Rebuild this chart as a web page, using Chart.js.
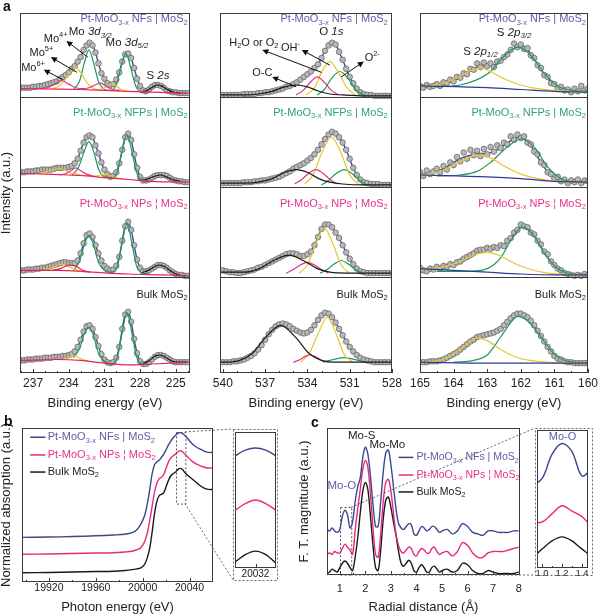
<!DOCTYPE html>
<html>
<head>
<meta charset="utf-8">
<script src="https://cdn.jsdelivr.net/npm/chart.js@4.4.0/dist/chart.umd.min.js"></script>
<style>
  body { margin: 0; background: #fff; }
  #fig { position: relative; width: 601px; height: 616px; overflow: hidden; font-family: 'Liberation Sans', Arial, sans-serif; }
  #fig canvas { position: absolute; }
  .lett { position: absolute; font-weight: bold; font-size: 14px; color: #111; }
</style>
</head>
<body>
<div id="fig">
  <canvas id="a1"></canvas>
  <canvas id="a2"></canvas>
  <canvas id="a3"></canvas>
  <canvas id="b"></canvas>
  <canvas id="bIn"></canvas>
  <canvas id="c"></canvas>
  <canvas id="cIn"></canvas>
  <canvas id="ov" style="pointer-events:none"></canvas>
  <div class="lett" style="left:3px;top:-2px">a</div>
  <div class="lett" style="left:4px;top:413px">b</div>
  <div class="lett" style="left:311px;top:414px">c</div>
</div>
<script>
// ---------- data ----------
// Mo 3d (binding energy, eV)
const MO_E = [238,237.75,237.5,237.25,237,236.75,236.5,236.25,236,235.75,235.5,235.25,235,234.75,234.5,234.25,234,233.75,233.5,233.25,233,232.75,232.5,232.25,232,231.75,231.5,231.25,231,230.75,230.5,230.25,230,229.75,229.5,229.25,229,228.75,228.5,228.25,228,227.75,227.5,227.25,227,226.75,226.5,226.25,226,225.75,225.5,225.25,225,224.75,224.5,224.25,224];
const MO_NFS = [0.10,0.10,0.10,0.10,0.11,0.11,0.12,0.12,0.13, 0.14,0.15,0.16,0.17,0.20,0.22,0.24,0.27, 0.31,0.34,0.39,0.44,0.52,0.57,0.60,0.57, 0.49,0.37,0.26,0.20,0.15,0.13,0.14,0.19, 0.27,0.39,0.47,0.48,0.43,0.32,0.20,0.12, 0.07,0.06,0.08,0.11,0.13,0.13,0.12,0.10, 0.07,0.06,0.05,0.05,0.04,0.04,0.04,0.04];
const MO_NFPS = [0.16,0.16,0.17,0.17,0.17,0.18,0.18,0.19,0.19, 0.19,0.19,0.20,0.21,0.21,0.21,0.21,0.22, 0.23,0.26,0.31,0.40,0.49,0.55,0.57,0.55, 0.46,0.37,0.27,0.19,0.14,0.11,0.12,0.16, 0.26,0.41,0.55,0.59,0.52,0.36,0.21,0.11, 0.07,0.07,0.08,0.10,0.12,0.13,0.13,0.13, 0.12,0.10,0.08,0.07,0.06,0.06,0.05,0.05];
const MO_NPS = [0.07,0.07,0.08,0.08,0.08,0.09,0.09,0.10,0.10, 0.11,0.12,0.13,0.14,0.15,0.16,0.16,0.15, 0.15,0.15,0.18,0.26,0.37,0.46,0.48,0.44, 0.35,0.26,0.18,0.12,0.09,0.07,0.08,0.12, 0.22,0.40,0.56,0.61,0.52,0.35,0.19,0.10, 0.06,0.06,0.07,0.09,0.11,0.13,0.13,0.12, 0.10,0.07,0.05,0.03,0.02,0.02,0.01,0.01];
const MO_BULK = [0.07,0.07,0.08,0.08,0.08,0.09,0.09,0.09,0.10, 0.10,0.10,0.11,0.11,0.11,0.12,0.12,0.13, 0.14,0.17,0.22,0.30,0.39,0.45,0.46,0.42, 0.33,0.23,0.14,0.08,0.05,0.04,0.05,0.10, 0.22,0.42,0.58,0.61,0.50,0.31,0.15,0.06, 0.03,0.03,0.05,0.08,0.11,0.13,0.13,0.12, 0.10,0.08,0.06,0.05,0.05,0.05,0.05,0.05];

const MO_NFS_BG = [[238.1,0.09],[235,0.085],[233,0.08],[231,0.07],[229,0.06],[227,0.05],[223.8,0.04]];
const MO_NFS_MO6 = [[236.4,0.09],[235.8,0.10],[235.2,0.14],[234.6,0.18],[234.0,0.14],[233.4,0.10],[232.8,0.09],[232.3,0.10],[231.8,0.13],[231.3,0.15],[230.8,0.11],[230.3,0.08],[229.7,0.07]];
const MO_NFS_MO5 = [[235.4,0.09],[234.8,0.12],[234.3,0.19],[233.8,0.28],[233.4,0.32],[233.0,0.27],[232.5,0.16],[232.0,0.10],[231.5,0.08],[231.0,0.10],[230.5,0.14],[230.1,0.13],[229.6,0.08],[229.1,0.06]];
const MO_NFS_MO4 = [[233.6,0.08],[233.1,0.17],[232.7,0.37],[232.3,0.52],[231.9,0.37],[231.5,0.17],[231.1,0.09],[230.6,0.07],[230.0,0.13],[229.6,0.33],[229.2,0.48],[228.8,0.33],[228.4,0.13],[228.0,0.06],[227.5,0.05]];
const MO_NFS_S2S = [[228.0,0.05],[227.4,0.07],[226.9,0.11],[226.6,0.13],[226.2,0.12],[225.7,0.08],[225.2,0.05],[224.6,0.04]];

const MO_NFPS_BG = [[238.1,0.15],[236,0.14],[234,0.13],[232.5,0.12],[231,0.10],[229,0.08],[227,0.06],[223.8,0.05]];
const MO_NFPS_MO6 = [[234.8,0.13],[234.2,0.15],[233.8,0.18],[233.4,0.21],[233.0,0.18],[232.5,0.14],[232.0,0.12]];
const MO_NFPS_MO5 = [[236.4,0.15],[235.8,0.17],[235.2,0.19],[234.8,0.20],[234.3,0.18],[233.7,0.15],[233.0,0.13],[232.2,0.12],[231.6,0.12],[231.1,0.14],[230.6,0.13],[230.1,0.10],[229.6,0.09]];
const MO_NFPS_MO4 = [[233.7,0.13],[233.2,0.21],[232.7,0.39],[232.3,0.50],[231.9,0.39],[231.5,0.20],[231.0,0.11],[230.5,0.10],[229.9,0.17],[229.5,0.40],[229.1,0.58],[228.7,0.40],[228.3,0.16],[227.8,0.07],[227.3,0.06]];
const MO_NFPS_S2S = [[228.2,0.07],[227.5,0.08],[226.9,0.11],[226.3,0.13],[225.8,0.11],[225.3,0.08],[224.6,0.06]];

const MO_NPS_BG = [[238.1,0.07],[235,0.07],[232,0.05],[229,0.03],[226,0.02],[223.8,0.01]];
const MO_NPS_MO6 = [[235.4,0.07],[234.7,0.09],[234.2,0.12],[233.8,0.13],[233.3,0.11],[232.8,0.07],[232.2,0.05]];
const MO_NPS_MO5 = [[236.0,0.08],[235.4,0.10],[234.9,0.13],[234.5,0.14],[234.0,0.11],[233.5,0.08],[233.0,0.07]];
const MO_NPS_MO4 = [[233.6,0.07],[233.1,0.17],[232.7,0.35],[232.3,0.46],[231.9,0.35],[231.5,0.16],[231.0,0.07],[230.4,0.05],[229.9,0.12],[229.5,0.38],[229.1,0.60],[228.7,0.38],[228.3,0.12],[227.8,0.04],[227.3,0.03]];
const MO_NPS_S2S = [[227.9,0.04],[227.3,0.07],[226.8,0.11],[226.4,0.13],[225.9,0.11],[225.4,0.06],[224.8,0.02],[224.2,0.01]];

const MO_BULK_BG = [[238.1,0.07],[235,0.08],[233,0.07],[231,0.04],[229,0.02],[227,0.03],[223.8,0.05]];
const MO_BULK_MO5 = [[234.6,0.08],[234.0,0.10],[233.5,0.12],[233.0,0.09],[232.4,0.06]];
const MO_BULK_MO4 = [[233.6,0.10],[233.1,0.20],[232.7,0.36],[232.3,0.44],[231.9,0.34],[231.5,0.15],[231.0,0.06],[230.4,0.03],[229.9,0.11],[229.5,0.38],[229.1,0.60],[228.7,0.38],[228.3,0.11],[227.8,0.03],[227.3,0.03]];
const MO_BULK_S2S = [[227.8,0.03],[227.2,0.07],[226.7,0.12],[226.3,0.13],[225.8,0.10],[225.3,0.06],[224.7,0.05],[224.0,0.05]];

// O 1s
const O_E = [540,539.75,539.5,539.25,539,538.75,538.5,538.25,538,537.75,537.5,537.25,537,536.75,536.5,536.25,536,535.75,535.5,535.25,535,534.75,534.5,534.25,534,533.75,533.5,533.25,533,532.75,532.5,532.25,532,531.75,531.5,531.25,531,530.75,530.5,530.25,530,529.75,529.5,529.25,529,528.75,528.5,528.25,528];
const O_NFS = [0.02,0.02,0.02,0.02,0.02,0.02,0.03,0.03,0.03, 0.03,0.04,0.04,0.05,0.05,0.06,0.07,0.08, 0.09,0.11,0.12,0.14,0.16,0.19,0.22,0.25, 0.28,0.32,0.36,0.43,0.51,0.57,0.60,0.58, 0.50,0.41,0.31,0.22,0.15,0.09,0.05,0.03, 0.02,0.02,0.01,0.01,0.01,0.01,0.01,0.01];
const O_NFPS = [0.04,0.04,0.04,0.04,0.04,0.04,0.05,0.05,0.05, 0.06,0.06,0.07,0.07,0.08,0.09,0.10,0.11, 0.13,0.15,0.17,0.20,0.22,0.24,0.26,0.29, 0.32,0.36,0.41,0.47,0.53,0.58,0.61,0.59, 0.55,0.49,0.41,0.31,0.21,0.13,0.08,0.05, 0.04,0.03,0.03,0.03,0.02,0.02,0.02,0.02];
const O_NPS = [0.07,0.06,0.05,0.05,0.04,0.04,0.05,0.06,0.07, 0.08,0.10,0.11,0.13,0.15,0.17,0.19,0.21, 0.23,0.25,0.26,0.26,0.25,0.23,0.23,0.25, 0.28,0.35,0.44,0.53,0.58,0.58,0.55,0.49, 0.43,0.35,0.27,0.20,0.14,0.09,0.06,0.05, 0.04,0.04,0.04,0.04,0.04,0.04,0.04,0.04];
const O_BULK = [0.05,0.05,0.05,0.06,0.06,0.07,0.08,0.10,0.12, 0.15,0.19,0.24,0.30,0.36,0.41,0.45,0.47, 0.48,0.47,0.45,0.42,0.40,0.38,0.37,0.38, 0.41,0.46,0.52,0.57,0.60,0.59,0.55,0.49, 0.42,0.35,0.28,0.22,0.17,0.13,0.10,0.08, 0.07,0.06,0.05,0.05,0.05,0.05,0.05,0.05];

const O_NFS_OC = [[540.2,0.02],[538.5,0.02],[537.5,0.03],[536.5,0.06],[535.6,0.11],[534.8,0.13],[534.0,0.11],[533.2,0.06],[532.4,0.03],[531.5,0.02],[530,0.01],[528,0.01]];
const O_NFS_H2O = [[534.8,0.02],[534.3,0.07],[533.8,0.16],[533.3,0.22],[532.8,0.16],[532.3,0.07],[531.8,0.02]];
const O_NFS_OH = [[534.1,0.02],[533.5,0.10],[533.0,0.27],[532.4,0.39],[531.8,0.27],[531.2,0.10],[530.6,0.02]];
const O_NFS_O2 = [[533.3,0.02],[532.8,0.08],[532.3,0.20],[531.7,0.28],[531.1,0.20],[530.6,0.08],[530.0,0.02]];

const O_NFPS_OC = [[540.2,0.04],[538.5,0.04],[537.5,0.05],[536.5,0.09],[535.6,0.16],[534.8,0.19],[534.0,0.16],[533.2,0.09],[532.4,0.05],[531.5,0.03],[530,0.02],[528,0.02]];
const O_NFPS_H2O = [[534.9,0.03],[534.4,0.08],[533.9,0.15],[533.4,0.19],[532.9,0.15],[532.4,0.08],[531.9,0.03]];
const O_NFPS_OH = [[534.2,0.03],[533.6,0.13],[533.0,0.37],[532.3,0.55],[531.6,0.37],[531.0,0.13],[530.4,0.03]];
const O_NFPS_O2 = [[533.0,0.02],[532.5,0.07],[532.0,0.14],[531.4,0.19],[530.8,0.14],[530.3,0.07],[529.8,0.02]];

const O_NPS_OC = [[540.2,0.05],[538.5,0.05],[537.4,0.09],[536.4,0.18],[535.3,0.24],[534.3,0.18],[533.3,0.09],[532.4,0.05],[531.2,0.04],[528,0.04]];
const O_NPS_H2O = [[535.5,0.04],[535.0,0.08],[534.5,0.13],[534.0,0.16],[533.5,0.13],[533.0,0.08],[532.5,0.04]];
const O_NPS_OH = [[534.6,0.04],[534.0,0.13],[533.4,0.37],[532.8,0.54],[532.2,0.37],[531.6,0.13],[531.0,0.04]];
const O_NPS_O2 = [[533.1,0.04],[532.6,0.08],[532.1,0.14],[531.6,0.18],[531.1,0.14],[530.6,0.08],[530.1,0.04]];

const O_BULK_OC = [[540.2,0.05],[539.8,0.05],[538.8,0.07],[537.9,0.15],[537.0,0.32],[535.9,0.46],[534.8,0.32],[533.9,0.15],[533.0,0.07],[532.0,0.05],[528,0.05]];
const O_BULK_H2O = [[535.0,0.05],[534.5,0.08],[534.1,0.12],[533.8,0.13],[533.4,0.11],[533.0,0.07],[532.5,0.05]];
const O_BULK_OH = [[534.5,0.05],[533.9,0.14],[533.2,0.38],[532.6,0.55],[532.0,0.38],[531.4,0.14],[530.8,0.05]];
const O_BULK_O2 = [[532.9,0.05],[532.4,0.07],[531.9,0.09],[531.4,0.10],[530.9,0.09],[530.4,0.07],[529.9,0.05]];

// S 2p
const S_E = [165,164.75,164.5,164.25,164,163.75,163.5,163.25,163,162.75,162.5,162.25,162,161.75,161.5,161.25,161,160.75,160.5,160.25,160];
const S_NFS = [0.11,0.12,0.13,0.15,0.18,0.23,0.29,0.34,0.35,0.36,0.42,0.52,0.57,0.50,0.36,0.22,0.13,0.08,0.06,0.06,0.05];
const S_NFPS = [0.14,0.15,0.17,0.21,0.27,0.32,0.35,0.37,0.37,0.40,0.46,0.52,0.55,0.48,0.33,0.19,0.10,0.06,0.05,0.05,0.05];
const S_NPS = [0.09,0.09,0.10,0.12,0.14,0.18,0.23,0.28,0.31,0.32,0.36,0.46,0.56,0.53,0.40,0.24,0.12,0.06,0.03,0.02,0.02];
const S_BULK = [0.05,0.05,0.06,0.09,0.14,0.21,0.28,0.33,0.36,0.39,0.46,0.55,0.59,0.53,0.40,0.24,0.12,0.07,0.05,0.04,0.04];

const SR_E = [165,164.9,164.8,164.7,164.6,164.5,164.4,164.3,164.2,164.1,164,163.9,163.8,163.7,163.6,163.5,163.4,163.3,163.2,163.1,163,162.9,162.8,162.7,162.6,162.5,162.4,162.3,162.2,162.1,162,161.9,161.8,161.7,161.6,161.5,161.4,161.3,161.2,161.1,161,160.9,160.8,160.7,160.6,160.5,160.4,160.3,160.2,160.1,160];
const SR_NFS = [0.12,0.10,0.13,0.11,0.12,0.14,0.12,0.16,0.15,0.19, 0.17,0.22,0.21,0.26,0.25,0.31,0.30,0.37,0.33,0.38, 0.34,0.37,0.33,0.39,0.40,0.44,0.47,0.52,0.59,0.55, 0.58,0.53,0.54,0.46,0.43,0.35,0.32,0.24,0.22,0.15, 0.14,0.09,0.11,0.07,0.08,0.05,0.09,0.06,0.12,0.07, 0.09];
const SR_NFPS = [0.16,0.12,0.18,0.14,0.17,0.20,0.16,0.23,0.19,0.27, 0.24,0.33,0.28,0.38,0.31,0.41,0.35,0.40,0.34,0.42, 0.36,0.44,0.39,0.46,0.43,0.49,0.47,0.56,0.52,0.58, 0.54,0.56,0.49,0.47,0.39,0.36,0.27,0.24,0.16,0.14, 0.09,0.11,0.06,0.08,0.04,0.07,0.05,0.08,0.04,0.07, 0.06];
const SR_NPS = [0.10,0.07,0.06,0.09,0.08,0.11,0.09,0.12,0.11,0.14, 0.13,0.16,0.17,0.20,0.22,0.24,0.26,0.29,0.30,0.30, 0.32,0.31,0.33,0.32,0.35,0.34,0.40,0.43,0.49,0.52, 0.58,0.56,0.55,0.49,0.47,0.40,0.36,0.28,0.25,0.17, 0.13,0.09,0.07,0.04,0.03,0.02,0.01,0.02,0.01,0.03, 0.02];
const SR_BULK = [0.05,0.05,0.05,0.06,0.06,0.06,0.07,0.08,0.10,0.12, 0.14,0.16,0.19,0.22,0.25,0.28,0.30,0.33,0.34,0.35, 0.36,0.37,0.38,0.40,0.42,0.46,0.50,0.54,0.57,0.59, 0.59,0.57,0.55,0.51,0.46,0.40,0.34,0.28,0.22,0.17, 0.12,0.09,0.08,0.06,0.05,0.05,0.04,0.04,0.04,0.04, 0.04];

const S_NFS_BG = [[165,0.12],[163,0.10],[162,0.08],[161,0.06],[160,0.05]];
const S_NFS_P12 = [[165,0.12],[164.4,0.14],[163.9,0.21],[163.5,0.29],[163.2,0.32],[162.9,0.28],[162.5,0.20],[162.0,0.13],[161.5,0.09],[160.5,0.06],[160,0.05]];
const S_NFS_P32 = [[164.5,0.11],[163.8,0.13],[163.3,0.19],[162.9,0.28],[162.5,0.45],[162.1,0.55],[161.7,0.46],[161.3,0.26],[160.9,0.12],[160.5,0.07],[160,0.06]];
const S_NFPS_BG = [[165,0.13],[163,0.11],[162,0.09],[161,0.06],[160,0.05]];
const S_NFPS_P12 = [[165,0.13],[164.4,0.17],[163.9,0.26],[163.5,0.33],[163.2,0.35],[162.9,0.32],[162.5,0.23],[162.0,0.14],[161.5,0.09],[160.5,0.05],[160,0.05]];
const S_NFPS_P32 = [[164.5,0.12],[163.8,0.13],[163.3,0.17],[162.9,0.27],[162.4,0.44],[162.0,0.53],[161.6,0.44],[161.2,0.22],[160.8,0.09],[160.4,0.05],[160,0.05]];
const S_NPS_BG = [[165,0.09],[163,0.05],[162,0.03],[161,0.02],[160,0.02]];
const S_NPS_P12 = [[165,0.09],[164.3,0.11],[163.8,0.17],[163.4,0.24],[163.0,0.27],[162.6,0.23],[162.2,0.15],[161.7,0.08],[161.2,0.04],[160,0.02]];
const S_NPS_P32 = [[164.5,0.06],[163.6,0.06],[163.0,0.09],[162.6,0.21],[162.3,0.40],[161.95,0.55],[161.6,0.45],[161.3,0.26],[160.9,0.09],[160.5,0.03],[160,0.02]];
const S_BULK_BG = [[165,0.05],[163,0.04],[161,0.04],[160,0.04]];
const S_BULK_P12 = [[165,0.05],[164.4,0.07],[163.9,0.17],[163.5,0.28],[163.3,0.32],[163.0,0.29],[162.6,0.19],[162.1,0.10],[161.5,0.06],[160.5,0.04],[160,0.04]];
const S_BULK_P32 = [[164.0,0.05],[163.4,0.07],[163.0,0.13],[162.6,0.33],[162.3,0.49],[162.1,0.56],[161.8,0.51],[161.4,0.33],[161.0,0.14],[160.6,0.06],[160,0.04]];

// b: XANES (photon energy, eV)
const XAS_E = [19897,19920,19940,19960,19975,19985,19991,19995,19998,20000,20002,20004,20006,20008,20010,20012,20014,20016,20018,20020,20022,20024,20026,20028,20030,20032,20034,20036,20038,20042,20046,20050,20054,20058,20060];
const XAS_NFS = [0.290,0.292,0.295,0.300,0.305,0.310,0.320,0.340,0.370,0.400,0.440,0.510,0.600,0.700,0.760,0.780,0.790,0.810,0.830,0.860,0.890,0.915,0.937,0.952,0.965,0.970,0.965,0.952,0.935,0.900,0.875,0.860,0.845,0.840,0.845];
const XAS_NPS = [0.180,0.182,0.185,0.188,0.190,0.195,0.200,0.210,0.220,0.240,0.270,0.320,0.400,0.490,0.580,0.640,0.670,0.680,0.700,0.740,0.780,0.805,0.820,0.830,0.845,0.853,0.845,0.830,0.815,0.785,0.765,0.752,0.742,0.740,0.745];
const XAS_BULK = [0.060,0.062,0.065,0.068,0.070,0.075,0.080,0.085,0.090,0.100,0.120,0.160,0.220,0.320,0.440,0.520,0.560,0.570,0.580,0.620,0.660,0.690,0.705,0.714,0.730,0.738,0.730,0.711,0.695,0.670,0.645,0.620,0.605,0.600,0.605];

// c: EXAFS FT (radial distance, Å)
const FT_R = [0.5,0.6,0.7,0.8,0.9,1.0,1.1,1.2,1.3,1.4,1.5,1.6,1.7,1.8,1.9,2.0,2.1,2.2,2.3,2.4,2.5,2.6,2.7,2.8,2.9,3.0,3.1,3.2,3.3,3.4,3.5,3.6,3.7,3.8,3.9,4.0,4.1,4.2,4.3,4.4,4.5,4.6,4.7,4.8,4.9,5.0,5.2,5.4,5.6,5.8,6.0,6.2,6.4,6.6,6.8,7.0,7.2,7.4,7.6,7.8,8.0];
const FT_NFS = [0.31,0.30,0.32,0.30,0.29,0.31,0.40,0.44,0.41,0.32,0.36,0.50,0.60,0.66,0.80,0.87,0.82,0.67,0.48,0.33,0.33,0.50,0.70,0.83,0.85,0.75,0.60,0.45,0.35,0.32,0.31,0.33,0.35,0.34,0.28,0.27,0.30,0.33,0.32,0.30,0.31,0.33,0.33,0.31,0.29,0.30,0.31,0.28,0.30,0.35,0.33,0.29,0.28,0.27,0.30,0.30,0.29,0.29,0.29,0.30,0.30];
const FT_NPS = [0.14,0.15,0.14,0.16,0.15,0.15,0.18,0.21,0.19,0.17,0.14,0.30,0.45,0.58,0.72,0.78,0.73,0.55,0.32,0.14,0.12,0.28,0.50,0.63,0.65,0.57,0.42,0.28,0.20,0.16,0.15,0.17,0.19,0.18,0.14,0.13,0.16,0.18,0.17,0.15,0.15,0.18,0.19,0.16,0.14,0.15,0.16,0.13,0.16,0.22,0.20,0.15,0.12,0.12,0.15,0.16,0.16,0.16,0.17,0.18,0.19];
const FT_BULK = [0.01,0.02,0.04,0.03,0.02,0.05,0.08,0.095,0.08,0.05,0.03,0.12,0.25,0.42,0.57,0.63,0.58,0.40,0.20,0.05,0.03,0.17,0.38,0.51,0.53,0.46,0.36,0.27,0.16,0.08,0.06,0.08,0.10,0.08,0.03,0.02,0.05,0.07,0.05,0.02,0.02,0.05,0.06,0.04,0.02,0.03,0.04,0.02,0.03,0.08,0.07,0.03,0.01,0.01,0.03,0.02,0.01,0.01,0.01,0.01,0.02];

// tick labels
const MO_TICKS = [237, 234, 231, 228, 225];
const O_TICKS = [540, 537, 534, 531, 528];
const S_TICKS = [165, 164, 163, 162, 161, 160];
const XAS_TICKS = [19920, 19960, 20000, 20040];
const FT_TICKS = [1, 2, 3, 4, 5, 6, 7, 8];
const FT_IN_TICKS = [1.0, 1.2, 1.4];

// ---------- styling ----------
const FONT = "'Liberation Sans', Arial, Helvetica, sans-serif";
Chart.defaults.font.family = FONT;
Chart.defaults.color = '#222';

const C_ENV = '#3d4ba3', C_G = '#1e9a5a', C_Y = '#e9c62c', C_M = '#e2338f', C_R = '#ea2250', C_K = '#1a1a1a', C_SB = '#2c3a9a';
const COL_NFS = '#5b5ea8', COL_NFPS = '#2ea374', COL_NPS = '#e5328a';
const L_BLUE = '#3c4791', L_MAG = '#e8297f', L_BLK = '#1a1a1a';

const NAME_NFS = [['Pt-MoO', ''], ['3-x', 'sub'], [' NFs | MoS', ''], ['2', 'sub']];
const NAME_NFPS = [['Pt-MoO', ''], ['3-x', 'sub'], [' NFPs | MoS', ''], ['2', 'sub']];
const NAME_NPS = [['Pt-MoO', ''], ['3-x', 'sub'], [' NPs \u00a6 MoS', ''], ['2', 'sub']];
const NAME_BULK = [['Bulk MoS', ''], ['2', 'sub']];

function rich(ctx, x, y, parts, size, color, align) {
  const small = st => st === 'sub' || st === 'sup' || st === 'isub';
  const f = st => (st === 'i' || st === 'isub' ? 'italic ' : '') + (small(st) ? size * 0.68 : size) + 'px ' + FONT;
  let w = 0;
  parts.forEach(p => { ctx.font = f(p[1]); w += ctx.measureText(p[0]).width; });
  let cx = align === 'right' ? x - w : align === 'center' ? x - w / 2 : x;
  ctx.fillStyle = color; ctx.textAlign = 'left'; ctx.textBaseline = 'middle';
  parts.forEach(p => {
    ctx.font = f(p[1]);
    const dy = (p[1] === 'sub' || p[1] === 'isub') ? size * 0.3 : p[1] === 'sup' ? -size * 0.35 : 0;
    ctx.fillText(p[0], cx, y + dy);
    cx += ctx.measureText(p[0]).width;
  });
}

function arrow(ctx, x1, y1, x2, y2) {
  const a = Math.atan2(y2 - y1, x2 - x1), L = 6, W = 3;
  ctx.strokeStyle = '#111'; ctx.fillStyle = '#111'; ctx.lineWidth = 1;
  ctx.beginPath(); ctx.moveTo(x1, y1); ctx.lineTo(x2 - L * 0.8 * Math.cos(a), y2 - L * 0.8 * Math.sin(a)); ctx.stroke();
  ctx.beginPath(); ctx.moveTo(x2, y2);
  ctx.lineTo(x2 - L * Math.cos(a) + W * Math.sin(a), y2 - L * Math.sin(a) - W * Math.cos(a));
  ctx.lineTo(x2 - L * Math.cos(a) - W * Math.sin(a), y2 - L * Math.sin(a) + W * Math.cos(a));
  ctx.closePath(); ctx.fill();
}

// frame, inward ticks, separators, labels
function deco(spec) {
  return {
    id: 'deco',
    afterDatasetsDraw(chart) {
      const { ctx, chartArea: a, scales: { x, y } } = chart;
      const X = v => x.getPixelForValue(v), Y = v => y.getPixelForValue(v);
      ctx.save();
      ctx.strokeStyle = '#3a3a3a'; ctx.lineWidth = 1;
      (spec.seps || []).forEach(v => {
        const py = Math.round(Y(v)) + 0.5;
        ctx.beginPath(); ctx.moveTo(a.left, py); ctx.lineTo(a.right, py); ctx.stroke();
      });
      if (spec.zoom) {
        const z = spec.zoom;
        ctx.setLineDash([2, 2]); ctx.strokeStyle = '#555';
        ctx.strokeRect(Math.round(X(z[0])) + 0.5, Math.round(Y(z[3])) + 0.5, X(z[1]) - X(z[0]), Y(z[2]) - Y(z[3]));
        ctx.setLineDash([]);
      }
      (spec.lines || []).forEach(l => {
        ctx.strokeStyle = l.color; ctx.lineWidth = 1.5;
        ctx.beginPath(); ctx.moveTo(X(l.x1), Y(l.y)); ctx.lineTo(X(l.x2), Y(l.y)); ctx.stroke();
      });
      (spec.arrows || []).forEach(r => arrow(ctx, X(r[0]), Y(r[1]), X(r[2]), Y(r[3])));
      (spec.texts || []).forEach(t => rich(ctx, X(t.x), Y(t.y), t.parts, t.size || 11, t.color || '#222', t.align || 'center'));
      ctx.strokeStyle = '#3a3a3a'; ctx.lineWidth = 1;
      ctx.strokeRect(a.left + 0.5, a.top + 0.5, a.right - a.left - 1, a.bottom - a.top - 1);
      const tick = (v, len) => {
        const px = Math.round(X(v)) + 0.5;
        ctx.beginPath(); ctx.moveTo(px, a.bottom); ctx.lineTo(px, a.bottom - len); ctx.stroke();
      };
      (spec.majors || []).forEach(v => tick(v, 4));
      (spec.minors || []).forEach(v => tick(v, 2));
      ctx.restore();
    }
  };
}

function scalesFor(o) {
  return {
    x: {
      type: 'linear', min: o.xr[0], max: o.xr[1], reverse: !!o.rev,
      afterBuildTicks: s => { s.ticks = o.majors.map(v => ({ value: v })); },
      afterFit: s => { s.height = o.xH; },
      grid: { display: false, drawTicks: false }, border: { display: false },
      ticks: { padding: o.tp, autoSkip: false, maxRotation: 0, font: { size: o.tf }, color: '#222', callback: o.fmt || (v => String(v)) },
      title: o.xTitle ? { display: true, text: o.xTitle, color: '#222', font: { size: 13, lineHeight: 1 }, padding: { top: 0, bottom: o.xtp } } : { display: false }
    },
    y: {
      type: 'linear', min: o.yr[0], max: o.yr[1], display: !!o.yTitle,
      afterFit: s => { s.width = o.yW || 0; },
      grid: { display: false }, border: { display: false }, ticks: { display: false },
      title: { display: !!o.yTitle, text: o.yTitle || '', color: '#222', font: { size: 13, lineHeight: 1 }, padding: 0 }
    }
  };
}

function place(id, b) {
  const cv = document.getElementById(id);
  cv.width = b.w; cv.height = b.h;
  cv.style.left = b.l + 'px'; cv.style.top = b.t + 'px';
  cv.style.width = b.w + 'px'; cv.style.height = b.h + 'px';
  return cv;
}

function makeChart(id, box, datasets, o, spec) {
  return new Chart(place(id, box), {
    type: 'scatter',
    data: { datasets },
    options: {
      responsive: false, animation: false, events: [], devicePixelRatio: 1,
      layout: { padding: o.pad, autoPadding: false },
      plugins: { legend: { display: false }, tooltip: { enabled: false } },
      scales: scalesFor(o)
    },
    plugins: [deco(spec)]
  });
}

const pairs = (xs, ys, off) => xs.map((x, i) => ({ x, y: ys[i] + off }));
const pts = (arr, off) => arr.map(p => ({ x: p[0], y: p[1] + off }));

function xpsSets(rows) {
  const sets = [];
  rows.forEach((r, k) => {
    const off = 3 - k;
    sets.push({ data: pairs(r.E, r.fit, off), showLine: true, pointRadius: 0, borderColor: C_ENV, borderWidth: 1.4, tension: 0.3, order: 3 });
    sets.push({ data: pairs(r.rawE || r.E, r.raw || r.fit, off), showLine: false, pointRadius: 2.8,
      pointBackgroundColor: '#b8b8b8', pointBorderColor: '#5a5a5a', pointBorderWidth: 0.7, order: 2 });
    r.comps.forEach(c => sets.push({ data: pts(c[0], off), showLine: true, pointRadius: 0, borderColor: c[1],
      borderWidth: 1.2, cubicInterpolationMode: 'monotone', order: 1 }));
  });
  return sets;
}

function sampleTexts(xr) {
  return [
    { x: xr, y: 3.86, parts: NAME_NFS, color: COL_NFS, align: 'right' },
    { x: xr, y: 2.82, parts: NAME_NFPS, color: COL_NFPS, align: 'right' },
    { x: xr, y: 1.81, parts: NAME_NPS, color: COL_NPS, align: 'right' },
    { x: xr, y: 0.80, parts: NAME_BULK, color: '#222', align: 'right' }
  ];
}

// ---------- panel a ----------
const A1 = { l: 0, t: 0, w: 200, h: 420 }, A2 = { l: 200, t: 0, w: 205, h: 420 }, A3 = { l: 400, t: 0, w: 201, h: 420 };
const aCommon = { yr: [-0.07, 3.93], xH: 47, tp: 3, tf: 12, xtp: 10.5, xTitle: 'Binding energy (eV)' };

makeChart('a1', A1, xpsSets([
  { E: MO_E, fit: MO_NFS, comps: [[MO_NFS_BG, C_R], [MO_NFS_MO6, C_M], [MO_NFS_MO5, C_Y], [MO_NFS_MO4, C_G], [MO_NFS_S2S, C_K]] },
  { E: MO_E, fit: MO_NFPS, comps: [[MO_NFPS_BG, C_R], [MO_NFPS_MO6, C_M], [MO_NFPS_MO5, C_Y], [MO_NFPS_MO4, C_G], [MO_NFPS_S2S, C_K]] },
  { E: MO_E, fit: MO_NPS, comps: [[MO_NPS_BG, C_R], [MO_NPS_MO6, C_R], [MO_NPS_MO5, C_Y], [MO_NPS_MO4, C_G], [MO_NPS_S2S, C_K]] },
  { E: MO_E, fit: MO_BULK, comps: [[MO_BULK_BG, C_R], [MO_BULK_MO5, C_Y], [MO_BULK_MO4, C_G], [MO_BULK_S2S, C_K]] }
]), Object.assign({}, aCommon, { xr: [223.8, 238.1], rev: true, majors: MO_TICKS, yW: 20, yTitle: 'Intensity (a.u.)',
  pad: { left: 0, top: 13, right: 10, bottom: 0 } }), {
  seps: [1, 2, 3], majors: MO_TICKS, minors: [238, 236, 235, 233, 232, 230, 229, 227, 226, 224],
  arrows: [[232.4, 3.44, 234.2, 3.62], [233.3, 3.27, 235.5, 3.44], [234.5, 3.19, 236.1, 3.30]],
  texts: sampleTexts(224.0).concat([
    { x: 232.2, y: 3.72, parts: [['Mo ', ''], ['3d', 'i'], ['3/2', 'isub']], size: 11.5 },
    { x: 229.1, y: 3.60, parts: [['Mo ', ''], ['3d', 'i'], ['5/2', 'isub']], size: 11.5 },
    { x: 226.5, y: 3.23, parts: [['S ', ''], ['2s', 'i']], size: 11.5 },
    { x: 235.1, y: 3.64, parts: [['Mo', ''], ['4+', 'sup']], size: 11 },
    { x: 236.3, y: 3.49, parts: [['Mo', ''], ['5+', 'sup']], size: 11 },
    { x: 237.0, y: 3.32, parts: [['Mo', ''], ['6+', 'sup']], size: 11 }
  ])
});

makeChart('a2', A2, xpsSets([
  { E: O_E, fit: O_NFS, comps: [[O_NFS_OC, C_K], [O_NFS_H2O, C_M], [O_NFS_OH, C_Y], [O_NFS_O2, C_G]] },
  { E: O_E, fit: O_NFPS, comps: [[O_NFPS_OC, C_K], [O_NFPS_H2O, C_M], [O_NFPS_OH, C_Y], [O_NFPS_O2, C_G]] },
  { E: O_E, fit: O_NPS, comps: [[O_NPS_OC, C_K], [O_NPS_H2O, C_M], [O_NPS_OH, C_Y], [O_NPS_O2, C_G]] },
  { E: O_E, fit: O_BULK, comps: [[O_BULK_OC, C_K], [O_BULK_H2O, C_M], [O_BULK_OH, C_Y], [O_BULK_O2, C_G]] }
]), Object.assign({}, aCommon, { xr: [528, 540.2], rev: true, majors: O_TICKS,
  pad: { left: 20, top: 13, right: 13, bottom: 0 } }), {
  seps: [1, 2, 3], majors: O_TICKS, minors: [539, 538, 536, 535, 533, 532, 530, 529],
  arrows: [[533.0, 3.27, 537.2, 3.52], [532.4, 3.35, 534.4, 3.52], [531.6, 3.22, 530.0, 3.39], [534.8, 3.11, 536.5, 3.22]],
  texts: sampleTexts(528.3).concat([
    { x: 532.3, y: 3.72, parts: [['O ', ''], ['1s', 'i']], size: 11.5 },
    { x: 537.8, y: 3.60, parts: [['H', ''], ['2', 'sub'], ['O or O', ''], ['2', 'sub']], size: 11 },
    { x: 535.2, y: 3.54, parts: [['OH', ''], ['-', 'sup']], size: 11 },
    { x: 529.4, y: 3.43, parts: [['O', ''], ['2-', 'sup']], size: 11 },
    { x: 537.2, y: 3.26, parts: [['O-C', '']], size: 11 }
  ])
});

makeChart('a3', A3, xpsSets([
  { E: S_E, fit: S_NFS, rawE: SR_E, raw: SR_NFS, comps: [[S_NFS_BG, C_SB], [S_NFS_P12, C_Y], [S_NFS_P32, C_G]] },
  { E: S_E, fit: S_NFPS, rawE: SR_E, raw: SR_NFPS, comps: [[S_NFPS_BG, C_SB], [S_NFPS_P12, C_Y], [S_NFPS_P32, C_G]] },
  { E: S_E, fit: S_NPS, rawE: SR_E, raw: SR_NPS, comps: [[S_NPS_BG, C_SB], [S_NPS_P12, C_Y], [S_NPS_P32, C_G]] },
  { E: S_E, fit: S_BULK, rawE: SR_E, raw: SR_BULK, comps: [[S_BULK_BG, C_SB], [S_BULK_P12, C_Y], [S_BULK_P32, C_G]] }
]), Object.assign({}, aCommon, { xr: [160, 165], rev: true, majors: S_TICKS,
  pad: { left: 20, top: 13, right: 11, bottom: 0 } }), {
  seps: [1, 2, 3], majors: S_TICKS, minors: [164.5, 163.5, 162.5, 161.5, 160.5],
  texts: sampleTexts(160.06).concat([
    { x: 162.2, y: 3.71, parts: [['S ', ''], ['2p', 'i'], ['3/2', 'isub']], size: 11.5 },
    { x: 163.2, y: 3.50, parts: [['S ', ''], ['2p', 'i'], ['1/2', 'isub']], size: 11.5 }
  ])
});

// ---------- panels b and c ----------
function lineSets(xs, series, w) {
  return series.map(s => ({ data: pairs(xs, s[0], 0), showLine: true, pointRadius: 0, borderColor: s[1], borderWidth: w, tension: 0.35 }));
}
const XAS_SERIES = [[XAS_NFS, L_BLUE], [XAS_NPS, L_MAG], [XAS_BULK, L_BLK]];
const FT_SERIES = [[FT_NFS, L_BLUE], [FT_NPS, L_MAG], [FT_BULK, L_BLK]];
const B_ZOOM = [20028, 20036, 0.51, 0.975];
const C_ZOOM = [1.0, 1.44, 0, 0.46];

const B_BOX = { l: 0, t: 405, w: 228, h: 211 }, BI_BOX = { l: 225, t: 425, w: 60, h: 160 };
const C_BOX = { l: 298, t: 405, w: 237, h: 211 }, CI_BOX = { l: 527, t: 420, w: 71, h: 160 };

const bMain = makeChart('b', B_BOX, lineSets(XAS_E, XAS_SERIES, 1.4), {
  xr: [19897, 20060], yr: [0, 1], majors: XAS_TICKS, xH: 34, tp: 0, tf: 10.5, xtp: 2.5, yW: 22,
  xTitle: 'Photon energy (eV)', yTitle: 'Normalized absorption (a.u.)', pad: { left: 0, top: 23, right: 15, bottom: 0 }
}, {
  majors: XAS_TICKS, minors: [19900, 19940, 19980, 20020], zoom: B_ZOOM,
  lines: [{ x1: 19904, x2: 19917, y: 0.94, color: L_BLUE }, { x1: 19904, x2: 19917, y: 0.825, color: L_MAG }, { x1: 19904, x2: 19917, y: 0.714, color: L_BLK }],
  texts: [
    { x: 19919, y: 0.94, parts: NAME_NFS, color: COL_NFS, align: 'left', size: 11 },
    { x: 19919, y: 0.825, parts: NAME_NPS, color: COL_NPS, align: 'left', size: 11 },
    { x: 19919, y: 0.714, parts: NAME_BULK, color: '#222', align: 'left', size: 11 }
  ]
});

const bIn = makeChart('bIn', BI_BOX, lineSets(XAS_E, XAS_SERIES, 1.4), {
  xr: [20028, 20036], yr: [0.70, 1.006], majors: [20032], xH: 17, tp: 0, tf: 10, pad: { left: 10, top: 7, right: 9, bottom: 0 }
}, { majors: [20032], minors: [] });

const cMain = makeChart('c', C_BOX, lineSets(FT_R, FT_SERIES, 1.4), {
  xr: [0.5, 8.05], yr: [0, 1], majors: FT_TICKS, xH: 41, tp: 7, tf: 11, xtp: 2.5, yW: 29,
  xTitle: 'Radial distance (\u00c5)', yTitle: 'F. T. magnitude (a.u.)', pad: { left: 0, top: 23, right: 15, bottom: 0 }
}, {
  majors: FT_TICKS, minors: [1.5, 2.5, 3.5, 4.5, 5.5, 6.5, 7.5], zoom: C_ZOOM,
  lines: [{ x1: 3.3, x2: 3.88, y: 0.80, color: L_BLUE }, { x1: 3.3, x2: 3.88, y: 0.68, color: L_MAG }, { x1: 3.3, x2: 3.88, y: 0.565, color: L_BLK }],
  texts: [
    { x: 4.0, y: 0.80, parts: NAME_NFS, color: COL_NFS, align: 'left', size: 10.5 },
    { x: 4.0, y: 0.68, parts: NAME_NPS, color: COL_NPS, align: 'left', size: 10.5 },
    { x: 4.0, y: 0.565, parts: NAME_BULK, color: '#222', align: 'left', size: 10.5 },
    { x: 1.86, y: 0.945, parts: [['Mo-S', '']], size: 11.5 },
    { x: 2.86, y: 0.885, parts: [['Mo-Mo', '']], size: 11.5 },
    { x: 1.08, y: 0.605, parts: [['Mo-O', '']], color: COL_NFS, size: 11.5 }
  ]
});

const cIn = makeChart('cIn', CI_BOX, lineSets(FT_R, FT_SERIES, 1.4), {
  xr: [0.95, 1.46], yr: [-0.02, 0.49], majors: FT_IN_TICKS, xH: 12, tp: 0, tf: 9.5, fmt: v => v.toFixed(1),
  pad: { left: 10, top: 10, right: 10, bottom: 0 }
}, {
  majors: FT_IN_TICKS, minors: [1.1, 1.3],
  texts: [{ x: 1.205, y: 0.464, parts: [['Mo-O', '']], color: COL_NFS, size: 11 }]
});

// ---------- zoom connectors ----------
(function () {
  const ov = place('ov', { l: 0, t: 0, w: 601, h: 616 });
  ov.style.zIndex = 5;
  const g = ov.getContext('2d');
  g.strokeStyle = '#666'; g.lineWidth = 1; g.setLineDash([2, 2]);
  const P = (ch, box, xv, yv) => [box.l + ch.scales.x.getPixelForValue(xv), box.t + ch.scales.y.getPixelForValue(yv)];
  const seg = (p, q) => { g.beginPath(); g.moveTo(p[0], p[1]); g.lineTo(q[0], q[1]); g.stroke(); };

  const ba = bIn.chartArea;
  const bo = { l: BI_BOX.l + ba.left - 2, t: BI_BOX.t + ba.top - 3, r: BI_BOX.l + ba.right + 1, b: BI_BOX.t + ba.bottom + 12 };
  g.strokeRect(Math.round(bo.l) + 0.5, Math.round(bo.t) + 0.5, bo.r - bo.l, bo.b - bo.t);
  seg(P(bMain, B_BOX, B_ZOOM[1], B_ZOOM[3]), [bo.l, bo.t]);
  seg(P(bMain, B_BOX, B_ZOOM[1], B_ZOOM[2]), [bo.l, bo.b]);

  const ca = cIn.chartArea;
  const co = { l: CI_BOX.l + ca.left - 2, t: CI_BOX.t + ca.top - 2, r: CI_BOX.l + ca.right + 4, b: CI_BOX.t + ca.bottom + 7 };
  g.strokeRect(Math.round(co.l) + 0.5, Math.round(co.t) + 0.5, co.r - co.l, co.b - co.t);
  seg(P(cMain, C_BOX, C_ZOOM[1], C_ZOOM[3]), [co.l, co.t]);
  seg(P(cMain, C_BOX, C_ZOOM[1], C_ZOOM[2]), [co.l, co.b]);
})();
</script>
</body>
</html>
